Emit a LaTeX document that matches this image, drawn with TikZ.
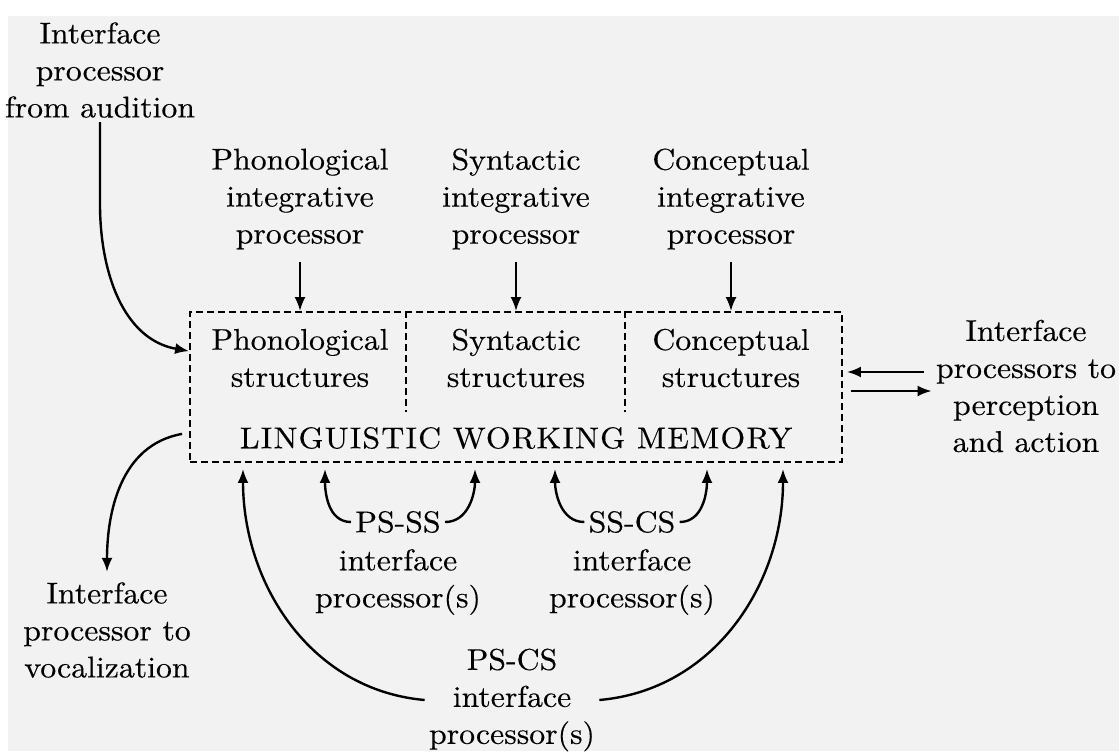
\documentclass[tikz,border=0pt]{standalone}
\usepackage{fontspec}
\setmainfont{lmroman10-regular.otf}[FakeStretch=1.06,FakeBold=0.3]
\usetikzlibrary{arrows.meta}
\definecolor{paper}{RGB}{242,242,242}
\tikzset{
    lbl/.style={align=center,inner sep=2pt,font=\fontsize{15}{18.5}\selectfont},
    arr/.style={-{Latex[length=7pt,width=5.5pt]},line width=1.2pt},
    memline/.style={dash pattern=on 3.5pt off 2pt,line width=0.9pt},
}

\begin{document}
\begin{tikzpicture}[x=0.5pt,y=-0.5pt]
    \useasboundingbox (0,0) rectangle (1119,751);
    \fill[paper] (8,16) rectangle (1119,751);

    \node[memline,draw,minimum width=326pt,minimum height=75pt,inner sep=0pt] (mem) at (516,387) {};
    \draw[memline] (mem.north west) ++(217,0) -- ++(0,101);
    \draw[memline] (mem.north west) ++(436,0) -- ++(0,101);

    \node[lbl] (phon) at (300,358) {Phonological\\structures};
    \node[lbl] (syn) at (516,358) {Syntactic\\structures};
    \node[lbl] (con) at (731,358) {Conceptual\\structures};
    \node[lbl] (lwm) at (516,438) {\addfontfeature{LetterSpace=4}LINGUISTIC WORKING MEMORY};

    \node[lbl] (phonint) at (300,199) {Phonological\\integrative\\processor};
    \node[lbl] (synint) at (516,199) {Syntactic\\integrative\\processor};
    \node[lbl] (conint) at (731,199) {Conceptual\\integrative\\processor};
    \foreach \p in {phonint,synint,conint}
        \draw[arr,shorten <=4pt] (\p.south) -- (\p.south |- mem.north);

    \node[lbl] (aud) at (100,70) {Interface\\processor\\from audition};
    \draw[arr] (aud.south) -- ++(0,82) to[out=-90,in=170] ([yshift=-20pt]mem.north west);

    \node[lbl] (voc) at (107,630) {Interface\\processor to\\vocalization};
    \draw[arr,shorten >=3pt] ([xshift=-3.5pt,yshift=14.5pt]mem.south west) to[out=190,in=90] (voc.north);

    \node[lbl] (perc) at (1026,386) {Interface\\processors to\\perception\\and action};
    \draw[arr,shorten <=4pt,shorten >=2pt] ([yshift=7pt]perc.west) -- ([yshift=7pt]perc.west -| mem.east);
    \draw[arr,shorten <=4pt] ([yshift=-2.5pt]perc.west -| mem.east) -- ([yshift=-2.5pt]perc.west);

    % interface processors below memory
    \node[lbl] (psss) at (398,522) {PS-SS};
    \node[lbl] (pssi) at (398,582) {interface\\processor(s)};
    \node[lbl] (sscs) at (632,522) {SS-CS};
    \node[lbl] (sscsi) at (632,582) {interface\\processor(s)};
    \node[lbl] (pscs) at (512,700) {PS-CS\\interface\\processor(s)};

    \draw[arr] (psss.west) to[out=180,in=-90] ([xshift=-95.5pt,yshift=-3pt]mem.south);
    \draw[arr] (psss.east) to[out=0,in=-90] ([xshift=-20.5pt,yshift=-3pt]mem.south);
    \draw[arr] (sscs.west) to[out=180,in=-90] ([xshift=19.5pt,yshift=-3pt]mem.south);
    \draw[arr] (sscs.east) to[out=0,in=-90] ([xshift=95.5pt,yshift=-3pt]mem.south);
    \draw[arr] (pscs.west) to[out=175,in=-90] ([xshift=-136.5pt,yshift=-3pt]mem.south);
    \draw[arr] (pscs.east) to[out=5,in=-90] ([xshift=133.5pt,yshift=-3pt]mem.south);
\end{tikzpicture}
\end{document}
